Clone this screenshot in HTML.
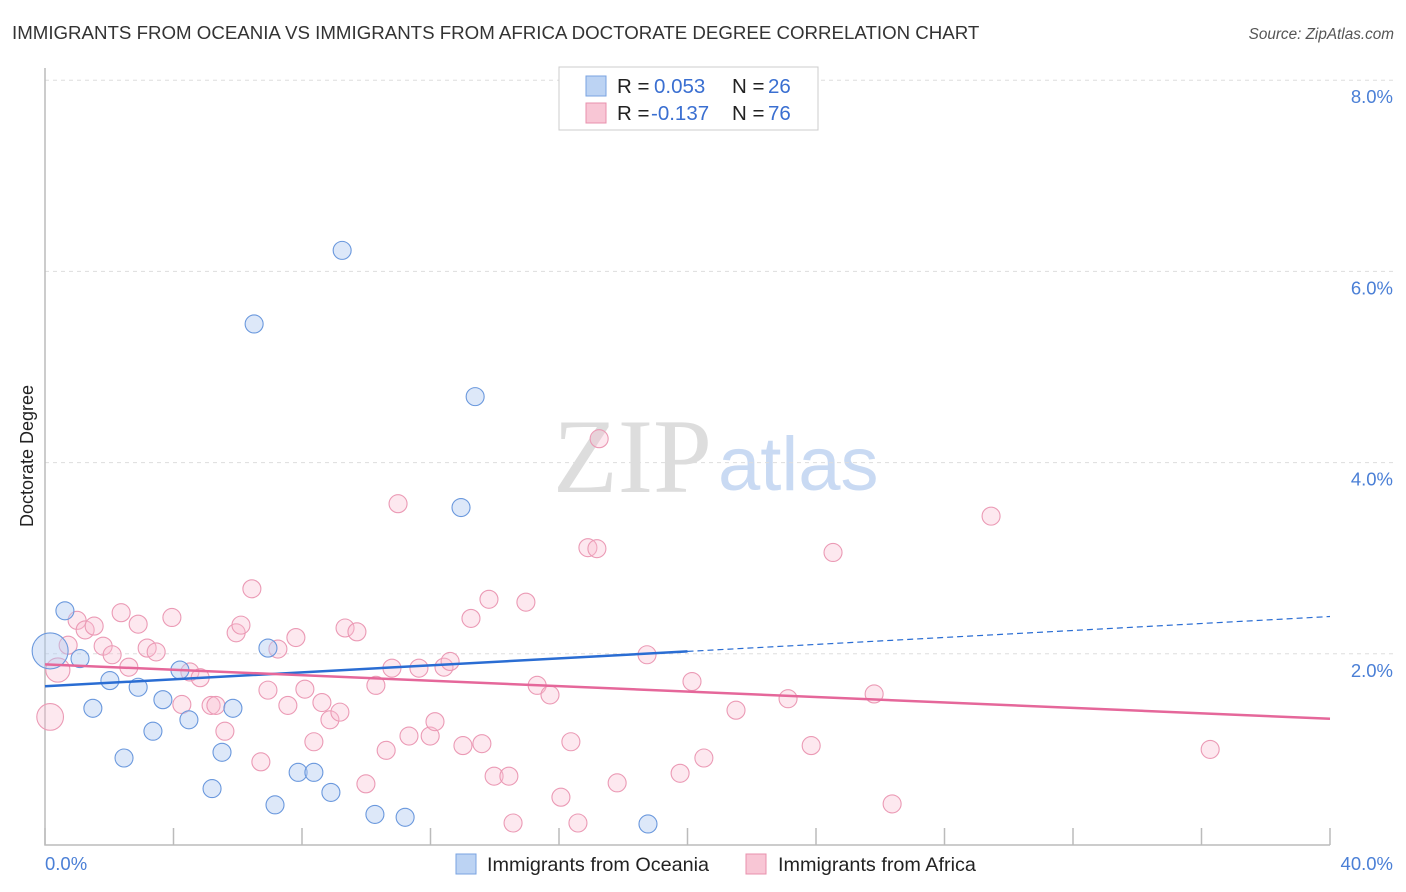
<!DOCTYPE html>
<html><head><meta charset="utf-8"><style>
body{margin:0;background:#fff;}
svg{display:block;font-family:"Liberation Sans",sans-serif;}
</style></head><body>
<svg id="chart" width="1406" height="892">
<text x="12" y="39" font-size="18.7" fill="#333">IMMIGRANTS FROM OCEANIA VS IMMIGRANTS FROM AFRICA DOCTORATE DEGREE CORRELATION CHART</text>
<text x="1394" y="39" font-size="15.3" fill="#555" font-style="italic" text-anchor="end">Source: ZipAtlas.com</text>
<text x="553" y="492" font-size="106" fill="#ddd" font-family="Liberation Serif,serif">ZIP</text>
<text x="718" y="490" font-size="76" fill="#c9daf3">atlas</text>
<g id="grid"></g>
<g id="axes"></g>
<g id="pts"></g>
<g id="lines"></g>
<text transform="translate(33,456) rotate(-90)" font-size="18" fill="#222" text-anchor="middle">Doctorate Degree</text>
<g>
<rect x="559" y="67" width="259" height="63" fill="#fff" stroke="#ccc"/>
<rect x="586" y="76" width="20" height="20" fill="#bcd3f3" stroke="#7aa3e0"/>
<rect x="586" y="103" width="20" height="20" fill="#f8c6d5" stroke="#e890ad"/>
<text x="617" y="93" font-size="20.5" fill="#222">R = <tspan fill="#3a6fd1" x="654">0.053</tspan><tspan x="732" fill="#222">N = </tspan><tspan x="768" fill="#3a6fd1">26</tspan></text>
<text x="617" y="120" font-size="20.5" fill="#222">R = <tspan fill="#3a6fd1" x="651">-0.137</tspan><tspan x="732" fill="#222">N = </tspan><tspan x="768" fill="#3a6fd1">76</tspan></text>
</g>
<g>
<rect x="456" y="854" width="20" height="20" fill="#bcd3f3" stroke="#7aa3e0"/>
<text x="487" y="871" font-size="19.8" fill="#222">Immigrants from Oceania</text>
<rect x="746" y="854" width="20" height="20" fill="#f8c6d5" stroke="#e890ad"/>
<text x="778" y="871" font-size="19.8" fill="#222">Immigrants from Africa</text>
</g>
</svg>
<script>
const yTicks=[2,4,6,8];
const yTickLabels=["2.0%","4.0%","6.0%","8.0%"];
const xTickLabels=["0.0%","40.0%"];
const blueX=[0.62,1.09,0.16,2.02,2.90,1.49,3.36,2.46,4.20,3.67,4.48,5.51,5.85,5.20,6.94,7.16,7.88,8.37,8.90,10.27,11.21,18.77,9.25,6.51,13.39,12.95];
const blueY=[2.45,1.95,2.03,1.72,1.65,1.43,1.19,0.91,1.83,1.52,1.31,0.97,1.43,0.59,2.06,0.42,0.76,0.76,0.55,0.32,0.29,0.22,6.22,5.45,4.69,3.53];
const blueW=[1,1,4,1,1,1,1,1,1,1,1,1,1,1,1,1,1,1,1,1,1,1,1,1,1,1];
const pinkX=[0.16,0.40,0.72,1.00,1.25,1.53,1.81,2.09,2.37,2.61,2.90,3.18,3.46,3.95,4.26,4.51,4.83,5.17,5.32,5.60,5.95,6.10,6.44,6.72,6.94,7.25,7.56,7.81,8.09,8.37,8.62,8.87,9.18,9.34,9.71,9.99,10.30,10.62,10.80,10.99,11.33,11.64,11.99,12.14,12.42,12.61,13.01,13.26,13.60,13.82,13.98,14.44,14.57,14.97,15.32,15.72,16.06,16.37,16.59,16.90,17.18,17.25,17.81,18.74,19.77,20.14,20.51,21.51,23.13,23.85,24.53,25.81,26.37,29.45,36.27];
const pinkY=[1.34,1.83,2.09,2.35,2.25,2.29,2.08,1.99,2.43,1.86,2.31,2.06,2.02,2.38,1.47,1.81,1.75,1.46,1.46,1.19,2.22,2.30,2.68,0.87,1.62,2.05,1.46,2.17,1.63,1.08,1.49,1.31,1.39,2.27,2.23,0.64,1.67,0.99,1.85,3.57,1.14,1.85,1.14,1.29,1.86,1.92,1.04,2.37,1.06,2.57,0.72,0.72,0.23,2.54,1.67,1.57,0.50,1.08,0.23,3.11,3.10,4.25,0.65,1.99,0.75,1.71,0.91,1.41,1.53,1.04,3.06,1.58,0.43,3.44,1.00];
const pinkW=[2.2,1.8,1,1,1,1,1,1,1,1,1,1,1,1,1,1,1,1,1,1,1,1,1,1,1,1,1,1,1,1,1,1,1,1,1,1,1,1,1,1,1,1,1,1,1,1,1,1,1,1,1,1,1,1,1,1,1,1,1,1,1,1,1,1,1,1,1,1,1,1,1,1,1,1,1];
const blueLine=[1.66,2.39];
const pinkLine=[1.89,1.32];
const NS="http://www.w3.org/2000/svg";
const X=v=>45+v/40*1285;
const Y=v=>845-v*95.6;
function mk(t,a,p){const e=document.createElementNS(NS,t);for(const k in a)e.setAttribute(k,a[k]);p.appendChild(e);return e;}
const grid=document.getElementById('grid'),axes=document.getElementById('axes'),pts=document.getElementById('pts'),lines=document.getElementById('lines');
yTicks.forEach((t,i)=>{
 const l=mk('line',{x1:45,x2:1394,y1:Y(t),y2:Y(t),stroke:'#ddd','stroke-dasharray':'4,4'},grid);
 
 
 const tx=mk('text',{x:1393,y:Y(t)+23,'font-size':18.5,fill:'#4a7fd6','text-anchor':'end'},grid);
 tx.textContent=yTickLabels[i];
 
 
});
const ax=mk('path',{d:`M45 68 V845 H1330`,stroke:'#bbb',fill:'none','stroke-width':1.5},axes);


for(let i=0;i<=10;i++){
 const t=mk('line',{x1:X(i*4),x2:X(i*4),y1:828,y2:845,stroke:'#bbb','stroke-width':1.5},axes);
 
 
}
[[45,'start'],[1393,'end']].forEach((p,i)=>{
 const tx=mk('text',{x:p[0],y:870,'font-size':18.5,fill:'#4a7fd6','text-anchor':p[1]},axes);
 tx.textContent=xTickLabels[i];
 
 
});
function dots(xs,ys,ws,fill,stroke,name){
 xs.forEach((x,i)=>{
  const c=mk('circle',{cx:X(x),cy:Y(ys[i]),r:9*Math.sqrt(ws[i]),fill:fill,stroke:stroke,'stroke-width':1.1},pts);
  
  
 });
}
dots(pinkX,pinkY,pinkW,'rgba(248,190,208,0.35)','#eb9ab5','point-africa');
dots(blueX,blueY,blueW,'rgba(180,205,242,0.45)','#6a98dd','point-oceania');
const bl=mk('line',{x1:X(0),y1:Y(blueLine[0]),x2:X(20),y2:Y(blueLine[0]+(blueLine[1]-blueLine[0])/2),stroke:'#2a6dd3','stroke-width':2.5},lines);


const bd=mk('line',{x1:X(20),y1:Y(blueLine[0]+(blueLine[1]-blueLine[0])/2),x2:X(40),y2:Y(blueLine[1]),stroke:'#2a6dd3','stroke-width':1.2,'stroke-dasharray':'6,4'},lines);


const pl=mk('line',{x1:X(0),y1:Y(pinkLine[0]),x2:X(40),y2:Y(pinkLine[1]),stroke:'#e5679a','stroke-width':2.5},lines);


</script>
</body></html>
